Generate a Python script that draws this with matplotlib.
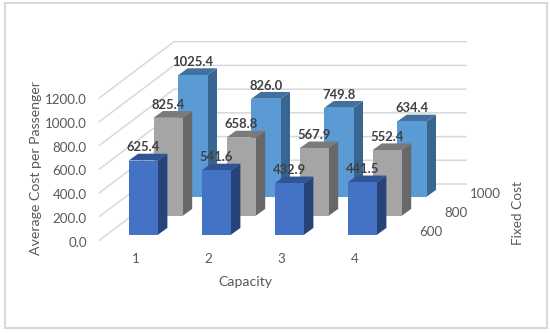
import matplotlib
matplotlib.use('Agg')
import matplotlib.pyplot as plt
from matplotlib.patches import Polygon, Rectangle

capacity = ['1', '2', '3', '4']
fixed_cost = ['600', '800', '1000']
cost_600 = [625.4, 541.6, 432.9, 441.5]
cost_800 = [825.4, 658.8, 567.9, 552.4]
cost_1000 = [1025.4, 826.0, 749.8, 634.4]
y_ticks = [0, 200, 400, 600, 800, 1000, 1200]

front_colors = ['#4472c4', '#a5a5a5', '#5b9bd5']
side_colors = ['#264478', '#686868', '#386690']
top_colors = ['#2f5597', '#7a7a7a', '#41719c']

# oblique projection of the excel 3d chart, in pixels
X0, Y0 = 128.7, 234.7
CAT_STEP = 73.0
SER_DX, SER_DY = 24.8, -19.0
BAR_W = 29.3
DEP_DX, DEP_DY = 9.4, -6.8
SCALE = 0.1186

plt.rcParams['font.family'] = ['Lato', 'DejaVu Sans']


def proj(cat, ser, val=0):
    return (X0 + CAT_STEP * cat + SER_DX * ser,
            Y0 + SER_DY * ser - SCALE * val)


def draw_bar(ax, cat, ser, val):
    x, y0 = proj(cat, ser)
    _, y1 = proj(cat, ser, val)
    r = x + BAR_W
    front = [(x, y0), (r, y0), (r, y1), (x, y1)]
    side = [(r, y0), (r + DEP_DX, y0 + DEP_DY), (r + DEP_DX, y1 + DEP_DY), (r, y1)]
    top = [(x, y1), (r, y1), (r + DEP_DX, y1 + DEP_DY), (x + DEP_DX, y1 + DEP_DY)]
    ax.add_patch(Polygon(side, fc=side_colors[ser], ec='none', zorder=3))
    ax.add_patch(Polygon(top, fc=top_colors[ser], ec='none', zorder=3))
    ax.add_patch(Polygon(front, fc=front_colors[ser], ec='none', zorder=3))


fig = plt.figure(figsize=(5.5, 3.33), dpi=100)
ax = fig.add_axes([0, 0, 1, 1])
ax.set_xlim(0, 550)
ax.set_ylim(333, 0)
ax.axis('off')

ax.add_patch(Rectangle((4.5, 2.5), 542.5, 325.5, fc='white', ec='#d9d9d9', lw=1.5))

# gridlines on side wall and back wall
for t in y_ticks:
    y = 240.3 - SCALE * t
    yb = 184.0 - SCALE * t
    ax.plot([99.3, 174, 466], [y, yb, yb], color='#d9d9d9', lw=1.1, zorder=1)
    ax.text(86.8, y + 2.3, '%.1f' % t, ha='right', va='center', fontsize=9.6, color='#595959')

series = [cost_600, cost_800, cost_1000]
for s in range(2, -1, -1):
    for c in range(len(capacity)):
        draw_bar(ax, c, s, series[s][c])

for s in range(3):
    for c in range(len(capacity)):
        x, y = proj(c, s, series[s][c])
        ax.text(x + BAR_W / 2, y - 13.2, '%.1f' % series[s][c], ha='center', va='center',
                fontsize=9.4, fontweight='bold', color='#404040', zorder=5)

for c, lab in enumerate(capacity):
    ax.text(135.7 + CAT_STEP * c, 259.3, lab, ha='center', va='center', fontsize=9.6, color='#595959')
for s, lab in enumerate(fixed_cost):
    ax.text(419.7 + 25.1 * s, 232.2 - 18.9 * s, lab, ha='left', va='center', fontsize=9.6, color='#595959')

ax.text(245, 281.5, 'Capacity', ha='center', va='center', fontsize=10.2, color='#595959')
ax.text(36.5, 168, 'Average Cost per Passenger', ha='center', va='center', rotation=90,
        fontsize=10.2, color='#595959')
ax.text(517.5, 212.7, 'Fixed Cost', ha='center', va='center', rotation=90, fontsize=9.8, color='#595959')

fig.savefig('out.png', dpi=100)
